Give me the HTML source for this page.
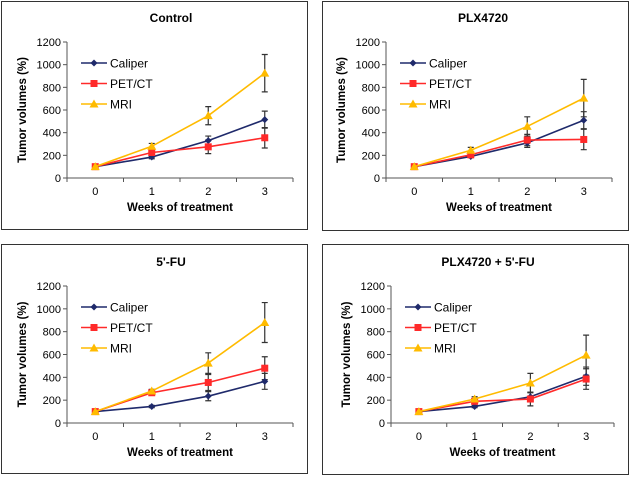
<!DOCTYPE html>
<html><head><meta charset="utf-8"><style>
body{margin:0;background:#fff;width:630px;height:483px;overflow:hidden}
svg{display:block;font-family:"Liberation Sans",Arial,sans-serif}
</style></head><body>
<svg id="fig" width="630" height="483" viewBox="0 0 630 483"></svg>
<script>
const weeks = [0,1,2,3];
const yTicks = [0,200,400,600,800,1000,1200];
const seriesNames = ["Caliper","PET/CT","MRI"];
const titles = ["Control","PLX4720","5'-FU","PLX4720 + 5'-FU"];
const caliperVals = [[100,185,330,515],[100,190,310,510],[100,145,235,365],[100,145,230,410]];
const caliperErr  = [[0,15,40,75],[0,10,40,75],[0,10,40,70],[0,10,40,80]];
const petVals = [[100,225,275,355],[100,205,335,340],[100,265,355,480],[100,190,210,385]];
const petErr  = [[10,30,60,90],[0,15,50,90],[0,20,70,100],[0,20,60,90]];
const mriVals = [[100,280,550,925],[100,245,455,705],[100,280,525,880],[100,210,350,595]];
const mriErr  = [[0,25,80,165],[0,25,85,165],[0,15,90,175],[0,20,85,175]];

const NS="http://www.w3.org/2000/svg";
const svg=document.getElementById('fig');
function mk(tag,attrs,parent){const e=document.createElementNS(NS,tag);for(const k in attrs)e.setAttribute(k,attrs[k]);(parent||svg).appendChild(e);return e;}
const colors=["#1f2a6b","#ff2a2a","#ffbb00"];
const panels=[
 {box:[1,1,306,228],L:67,R:293,T:42,B:178,tx:171},
 {box:[322,1,306,229],L:386,R:612,T:42,B:178,tx:483},
 {box:[1,244,306,229],L:67,R:293,T:286,B:423,tx:171},
 {box:[322,244,306,230],L:391,R:614,T:286,B:423,tx:488}
];
panels.forEach((p,pi)=>{
 const g=mk('g',{});
 
 
 const b=mk('rect',{x:p.box[0]+0.5,y:p.box[1]+0.5,width:p.box[2],height:p.box[3],fill:'none',stroke:'#333','stroke-width':1},g);
 
 
 const cw=(p.R-p.L)/4;
 const xs=i=>p.L+cw*(weeks[i]+0.5);
 const ys=v=>p.B-(v/1200)*(p.B-p.T);
 const cx=(p.L+p.R)/2;
 const t=mk('text',{x:p.tx,y:p.T-20,'text-anchor':'middle','font-size':12,'font-weight':'bold'},g);
 t.textContent=titles[pi];
 
 
 mk('line',{x1:p.L,y1:p.T,x2:p.L,y2:p.B,stroke:'#555'},g);
 mk('line',{x1:p.L,y1:p.B,x2:p.R,y2:p.B,stroke:'#555'},g);
 yTicks.forEach(v=>{
  const y=ys(v);
  mk('line',{x1:p.L-4,y1:y,x2:p.L,y2:y,stroke:'#555'},g);
  const tl=mk('text',{x:p.L-6,y:y+4,'text-anchor':'end','font-size':11},g);
  tl.textContent=v;
  
  
 });
 for(let i=0;i<=4;i++){const x=p.L+cw*i;mk('line',{x1:x,y1:p.B,x2:x,y2:p.B+4,stroke:'#555'},g);}
 weeks.forEach((w,i)=>{
  const tl=mk('text',{x:xs(i),y:p.B+17,'text-anchor':'middle','font-size':11},g);
  tl.textContent=w;
  
  
 });
 const xt=mk('text',{x:cx,y:p.B+33,'text-anchor':'middle','font-size':11.5,'font-weight':'bold'},g);
 xt.textContent='Weeks of treatment';
 
 
 const yx=p.L-41,yy=(p.T+p.B)/2;
 const yt=mk('text',{x:yx,y:yy,'text-anchor':'middle','font-size':11.5,'font-weight':'bold',transform:`rotate(-90 ${yx} ${yy})`},g);
 yt.textContent='Tumor volumes (%)';
 
 
 const allV=[caliperVals[pi],petVals[pi],mriVals[pi]];
 const allE=[caliperErr[pi],petErr[pi],mriErr[pi]];
 allV.forEach((vals,si)=>{
  vals.forEach((v,i)=>{
   const e=allE[si][i]; if(!e) return;
   const x=xs(i);
   const eb=mk('path',{d:`M${x},${ys(v-e)}V${ys(v+e)}M${x-3},${ys(v-e)}H${x+3}M${x-3},${ys(v+e)}H${x+3}`,stroke:'#333','stroke-width':1.2,fill:'none'},g);
   
   
  });
 });
 allV.forEach((vals,si)=>{
  const pts=vals.map((v,i)=>xs(i)+','+ys(v)).join(' ');
  const ln=mk('polyline',{points:pts,fill:'none',stroke:colors[si],'stroke-width':1.6},g);
  
  
  vals.forEach((v,i)=>{
   const m=marker(si,xs(i),ys(v),g);
   
   
  });
 });
 seriesNames.forEach((n,si)=>{
  const ly=p.T+21+si*20.5, lx=p.L+14;
  const lg=mk('g',{},g);
  
  
  mk('line',{x1:lx,y1:ly,x2:lx+26,y2:ly,stroke:colors[si],'stroke-width':1.6},lg);
  marker(si,lx+13,ly,lg);
  const tx=mk('text',{x:lx+29,y:ly+4.5,'font-size':12},lg);
  tx.textContent=n;
 });
});
function marker(si,x,y,g){
 if(si===0) return mk('path',{d:`M${x},${y-3.5}L${x+3.5},${y}L${x},${y+3.5}L${x-3.5},${y}Z`,fill:colors[0]},g);
 if(si===1) return mk('rect',{x:x-3.5,y:y-3.5,width:7,height:7,fill:colors[1]},g);
 return mk('path',{d:`M${x},${y-4.5}L${x+4.5},${y+3.5}L${x-4.5},${y+3.5}Z`,fill:colors[2]},g);
}
</script>
</body></html>
